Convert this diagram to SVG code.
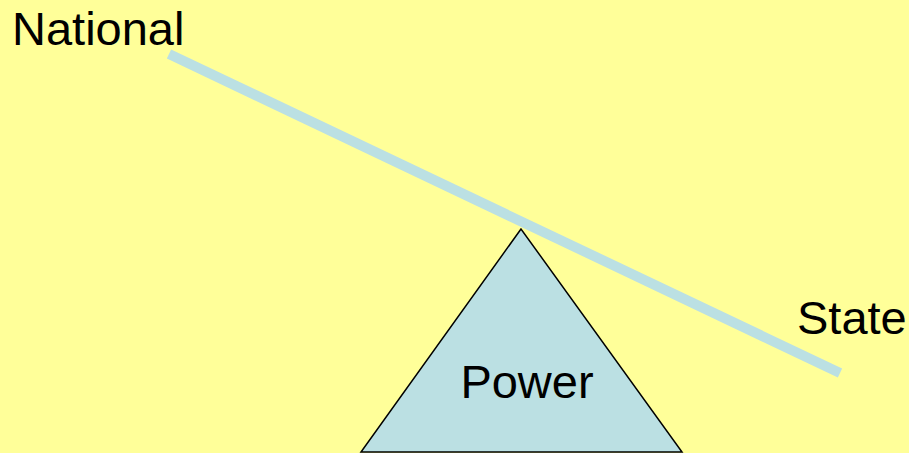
<svg xmlns="http://www.w3.org/2000/svg" width="909" height="453" viewBox="0 0 909 453">
<style>
.t{font-family:"Liberation Sans",Arial,sans-serif;font-size:47px;fill:#000}
</style>
<rect width="909" height="453" fill="#FFFF99"/>
<g id="connectors">
<line x1="169" y1="54" x2="840" y2="373" stroke="#BBE0E3" stroke-width="10"/>
</g>
<g id="power">
<polygon points="521,229 361,452 682,452" fill="#BBE0E3" stroke="#000" stroke-width="1.5" stroke-linejoin="miter"/>
<text class="t" x="527" y="398" text-anchor="middle">Power</text>
</g>
<g id="national">
<text class="t" x="12" y="45">National</text>
</g>
<g id="state">
<text class="t" x="797" y="334">State</text>
</g>
</svg>
